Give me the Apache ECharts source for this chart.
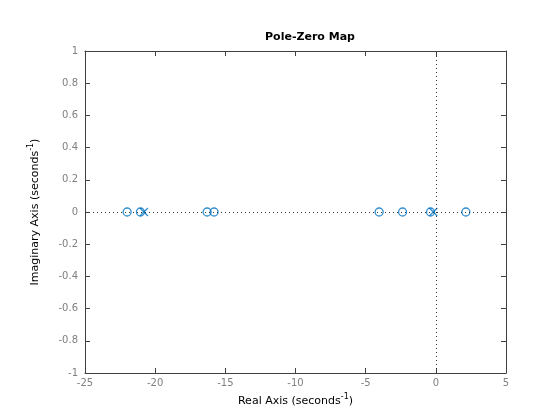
<!DOCTYPE html>
<html><head><meta charset="utf-8">
<script src="https://cdn.jsdelivr.net/npm/echarts@6/dist/echarts.min.js"></script>
<style>html,body{margin:0;padding:0;background:#fff}#c{width:560px;height:420px}</style>
</head><body><div id="c"></div>
<script>
const zerosReal = [-22.0, -21.05, -16.3, -15.8, -4.04, -2.37, -0.38, 2.14];
const zerosImag = [0, 0, 0, 0, 0, 0, 0, 0];
const polesReal = [-20.8, -0.18];
const polesImag = [0, 0];
const xTicks = [-25, 5, 5];
const yTicks = [-1, 1, 0.2];

const blue = '#0072BD';
const axisCol = '#404040';
const font = 'DejaVu Sans';
const chart = echarts.init(document.getElementById('c'));
const zeros = zerosReal.map((x, i) => [x, zerosImag[i]]);
const poles = polesReal.map((x, i) => [x, polesImag[i]]);
const axCommon = {
  axisLine: {show: true, onZero: false, lineStyle: {color: axisCol, width: 1}},
  axisTick: {show: true, inside: true, length: 5, lineStyle: {color: axisCol}},
  splitLine: {show: false}
};
chart.setOption({
  animation: false,
  title: {text: 'Pole-Zero Map', left: 305, top: 27, textAlign: 'center',
    textStyle: {fontFamily: font, fontSize: 11, fontWeight: 'bold', color: '#000'}},
  grid: {left: 85, right: 54, top: 51, bottom: 47},
  xAxis: [
    Object.assign({type: 'value', min: xTicks[0], max: xTicks[1], interval: xTicks[2], position: 'bottom',
      axisLabel: {fontFamily: font, fontSize: 10, color: '#808080', margin: 5},
      name: '{a|Real Axis (seconds}{s|-1}{a|)}', nameLocation: 'middle', nameGap: 19,
      nameTextStyle: {rich: {a: {fontFamily: font, fontSize: 11, color: '#000', verticalAlign: 'bottom'},
        s: {fontFamily: font, fontSize: 8, color: '#000', verticalAlign: 'top', padding: [0, 0, 6, 0]}}}}, axCommon),
    Object.assign({type: 'value', min: xTicks[0], max: xTicks[1], interval: xTicks[2], position: 'top',
      axisLabel: {show: false}}, axCommon)
  ],
  yAxis: [
    Object.assign({type: 'value', min: yTicks[0], max: yTicks[1], interval: yTicks[2], position: 'left',
      axisLabel: {fontFamily: font, fontSize: 10, color: '#808080', margin: 7,
        formatter: v => String(Math.round(v * 10) / 10)},
      name: '{a|Imaginary Axis (seconds}{s|-1}{a|)}', nameLocation: 'middle', nameGap: 44, nameRotate: 90,
      nameTextStyle: {rich: {a: {fontFamily: font, fontSize: 11, color: '#000', verticalAlign: 'bottom'},
        s: {fontFamily: font, fontSize: 8, color: '#000', verticalAlign: 'top', padding: [0, 0, 6, 0]}}}}, axCommon),
    Object.assign({type: 'value', min: yTicks[0], max: yTicks[1], interval: yTicks[2], position: 'right',
      axisLabel: {show: false}}, axCommon)
  ],
  series: [
    {type: 'line', data: [], silent: true,
      markLine: {silent: true, symbol: 'none', label: {show: false},
        lineStyle: {color: '#333', type: [1, 3], width: 1},
        data: [{xAxis: 0}, {yAxis: 0}]}},
    {type: 'scatter', data: zeros, symbol: 'circle', symbolSize: 8,
      itemStyle: {color: 'rgba(0,0,0,0)', borderColor: blue, borderWidth: 1.3}},
    {type: 'scatter', data: poles, symbol: 'path://M0,0L10,10M10,0L0,10', symbolSize: 8,
      itemStyle: {color: 'none', borderColor: blue, borderWidth: 1.3}}
  ]
});
</script></body></html>
